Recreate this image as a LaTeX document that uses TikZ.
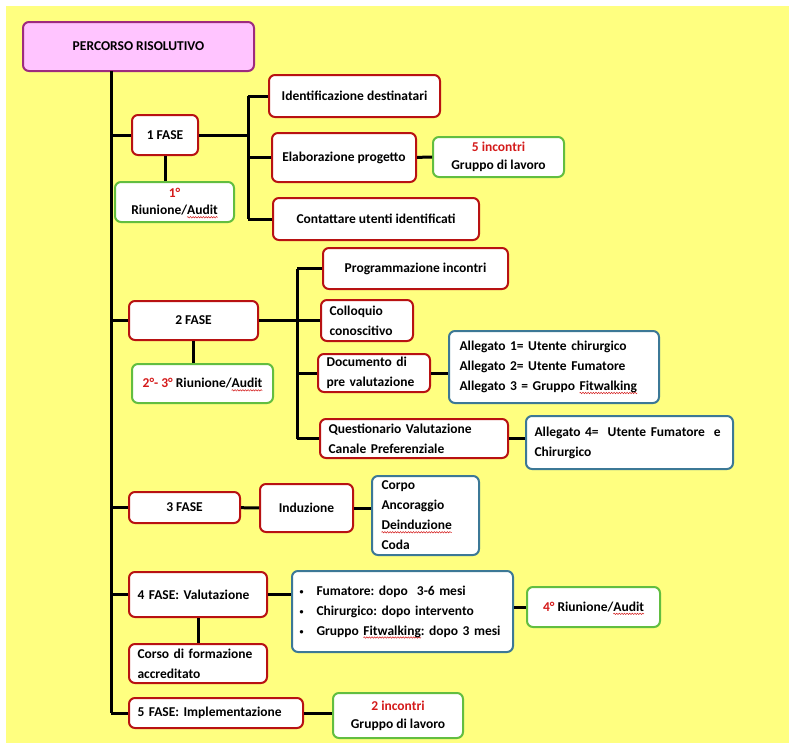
\documentclass[tikz,border=0pt]{standalone}
\usepackage{fontspec}
\setmainfont{Carlito}
\usepackage{tikz}
\usetikzlibrary{positioning,decorations.pathmorphing}
\definecolor{bgYellow}{HTML}{FFFF80}
\definecolor{pinkFill}{HTML}{FFC4FF}
\definecolor{plum}{HTML}{9E2A7E}
\definecolor{brick}{HTML}{B81212}
\definecolor{leaf}{HTML}{62BE40}
\definecolor{steel}{HTML}{3C7896}
\definecolor{alert}{HTML}{D41A1A}
\newcommand{\rd}[1]{\textcolor{alert}{#1}}
\newcommand{\blt}{\makebox[17pt][l]{\raisebox{0.5pt}{\footnotesize\textbullet}}}
% spell-check wave under a word
\newlength{\sqw}
\newcommand{\squig}[1]{\leavevmode\settowidth{\sqw}{#1}\rlap{\tikz[baseline=0pt,overlay]
  \draw[alert,line width=0.5pt,sharp corners,decorate,decoration={snake,amplitude=0.7pt,segment length=2.6pt}]
    (0pt,-2.4pt) -- (\sqw,-2.4pt);}#1}

\begin{document}
\frenchspacing
\begin{tikzpicture}[x=1pt,y=-1pt,
  font=\fontsize{13.5}{20}\selectfont\bfseries,
  box/.style={rounded corners=6pt,line width=2pt,fill=white,inner sep=0pt,
    inner xsep=8.5pt,align=center},
  phase/.style={box,draw=brick},
  note/.style={box,draw=leaf},
  info/.style={box,draw=steel,align=left},
  lft/.style={text width=#1,align=left},
  link/.style={line width=3pt,draw=black}
]
\useasboundingbox (0,0) rectangle (795,747);
\fill[white] (0,0) rectangle (795,747);
\fill[bgYellow] (6,6) rectangle (789,743);

% title and trunk
\node[box,draw=plum,fill=pinkFill,minimum width=231,minimum height=49] (title) at (138.5,46.5) {PERCORSO RISOLUTIVO};
\coordinate (top) at (111,71);
\coordinate (bot) at (111,713);

% phase 1
\node[phase,minimum width=66,minimum height=40] (f1) at (165,135) {1 FASE};
\node[note,minimum width=119,minimum height=40] (r1) at (174.5,202) {\rd{1°}\\[-3pt]Riunione/\squig{Audit}};
\node[phase,minimum width=171,minimum height=42] (ident) at (354.5,96) {Identificazione destinatari};
\node[phase,minimum width=144,minimum height=49] (elab) at (344,157.5) {Elaborazione progetto};
\node[note,minimum width=131,minimum height=40] (inc5) at (498.5,157) {\rd{5 incontri}\\[-2pt]Gruppo di lavoro};
\node[phase,minimum width=206,minimum height=42] (contatt) at (376,219) {Contattare utenti identificati};
\coordinate (j1) at (248,135);

% phase 2
\node[phase,minimum width=129,minimum height=39] (f2) at (193.5,320.5) {2 FASE};
\node[note,minimum width=141,minimum height=39] (r23) at (202.5,383.5) {\rd{2°- 3°} Riunione/\squig{Audit}};
\node[phase,minimum width=185,minimum height=41] (prog) at (415.5,268.5) {Programmazione incontri};
\node[phase,lft=75pt,minimum height=41] (coll) at (367,320.5) {Colloquio\\conoscitivo};
\node[phase,lft=95pt,minimum height=38] (doc) at (374,373) {Documento di\\pre valutazione};
\node[phase,lft=171pt,minimum height=39] (quest) at (414,438.5) {Questionario Valutazione\\Canale Preferenziale};
\node[info,text width=189pt,inner xsep=10.5pt,minimum height=72] (all13) at (554,367) {Allegato 1= Utente chirurgico\\Allegato 2= Utente Fumatore\\Allegato 3 = Gruppo \squig{Fitwalking}};
\node[info,text width=190pt,minimum height=53] (all4) at (629.5,442.5) {Allegato 4=\ \ Utente Fumatore\ \ e\\Chirurgico};
\coordinate (j2) at (297,320.5);

% phase 3
\node[phase,minimum width=111,minimum height=31] (f3) at (184.5,507.5) {3 FASE};
\node[phase,minimum width=93,minimum height=48] (induz) at (306.5,508) {Induzione};
\node[info,text width=88pt,inner xsep=9.5pt,minimum height=79] (corpo) at (425.5,515.5) {Corpo\\Ancoraggio\\\squig{Deinduzione}\\Coda};

% phase 4
\node[phase,lft=121pt,minimum height=45] (f4) at (198,594.5) {4 FASE: Valutazione};
\node[phase,lft=121pt,minimum height=39] (corso) at (198,663.5) {Corso di formazione\\accreditato};
\node[info,text width=206pt,inner xsep=7.5pt,minimum height=81] (verif) at (402.5,611.5)
  {\blt Fumatore: dopo\ \ 3-6 mesi\\
   \blt Chirurgico: dopo intervento\\
   \blt Gruppo \squig{Fitwalking}: dopo 3 mesi};
\node[note,minimum width=133,minimum height=40] (r4) at (593.5,607) {\rd{4°} Riunione/\squig{Audit}};

% phase 5
\node[phase,lft=157pt,minimum height=30] (f5) at (216,713) {5 FASE: Implementazione};
\node[note,minimum width=130,minimum height=45] (inc2) at (398,715.5) {\rd{2 incontri}\\[-2pt]Gruppo di lavoro};

% connectors
\draw[link] (top) -- (bot);
\foreach \n in {f1,f2,f3,f4,f5} \draw[link] (\n.west) -- (\n.west -| top);
\draw[link] (f1) -- (j1);
\draw[link] (j1 |- ident) -- (j1 |- contatt);
\foreach \n in {ident,elab,contatt} \draw[link] (\n.west) -- (\n.west -| j1);
\draw[link] (f1.south) -- (r1.north -| f1.south);
\draw[link] (f2) -- (j2);
\draw[link] (j2 |- prog) -- (j2 |- quest);
\foreach \n in {prog,coll,doc,quest} \draw[link] (\n.west) -- (\n.west -| j2);
\draw[link] (f2.south) -- (r23.north -| f2.south);
\draw[link] (elab) -- (inc5);
\draw[link] (doc.east) -- (doc.east -| all13.west);
\draw[link] (quest.east) -- (quest.east -| all4.west);
\draw[link] (f3) -- (induz);
\draw[link] (induz.east) -- (induz.east -| corpo.west);
\draw[link] (f4.south) -- (corso.north -| f4.south);
\draw[link] (f4.east) -- (f4.east -| verif.west);
\draw[link] (verif.east |- r4) -- (r4.west);
\draw[link] (f5.east) -- (f5.east -| inc2.west);
\end{tikzpicture}
\end{document}
